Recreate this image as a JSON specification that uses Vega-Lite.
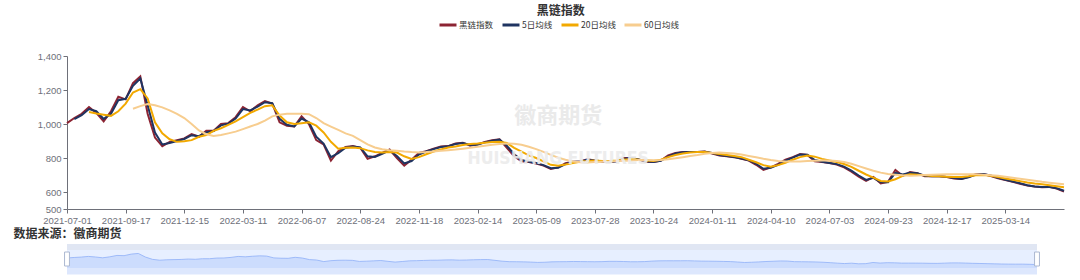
{
  "$schema": "https://vega.github.io/schema/vega-lite/v6.json",
  "padding": {"left": 13, "top": 5, "right": 5, "bottom": 5},
  "background": "white",
  "title": {"text": "黑链指数", "anchor": "middle", "frame": "bounds", "dx": 20, "font": "Noto Sans CJK SC", "fontSize": 12, "fontWeight": "bold", "color": "#333333", "offset": -3},
  "data": {"values": [
    {"d":"2021-07-01","黑链指数":1005,"5日均线":null,"20日均线":null,"60日均线":null},
    {"d":"2021-07-12","黑链指数":1035,"5日均线":1028,"20日均线":null,"60日均线":null},
    {"d":"2021-07-21","黑链指数":1060,"5日均线":1052,"20日均线":null,"60日均线":null},
    {"d":"2021-07-30","黑链指数":1100,"5日均线":1088,"20日均线":1070,"60日均线":null},
    {"d":"2021-08-10","黑链指数":1065,"5日均线":1075,"20日均线":1062,"60日均线":null},
    {"d":"2021-08-19","黑链指数":1015,"5日均线":1030,"20日均线":1055,"60日均线":null},
    {"d":"2021-08-30","黑链指数":1075,"5日均线":1060,"20日均线":1048,"60日均线":null},
    {"d":"2021-09-08","黑链指数":1160,"5日均线":1140,"20日均线":1075,"60日均线":null},
    {"d":"2021-09-17","黑链指数":1145,"5日均线":1148,"20日均线":1120,"60日均线":null},
    {"d":"2021-09-29","黑链指数":1240,"5日均线":1225,"20日均线":1185,"60日均线":1090},
    {"d":"2021-10-15","黑链指数":1280,"5日均线":1268,"20日均线":1205,"60日均线":1105},
    {"d":"2021-10-25","黑链指数":1060,"5日均线":1110,"20日均线":1150,"60日均线":1118},
    {"d":"2021-11-03","黑链指数":920,"5日均线":950,"20日均线":1010,"60日均线":1110},
    {"d":"2021-11-12","黑链指数":870,"5日均线":880,"20日均线":945,"60日均线":1098},
    {"d":"2021-11-23","黑链指数":895,"5日均线":888,"20日均线":910,"60日均线":1080},
    {"d":"2021-12-03","黑链指数":905,"5日均线":900,"20日均线":895,"60日均线":1060},
    {"d":"2021-12-15","黑链指数":915,"5日均线":912,"20日均线":898,"60日均线":1035},
    {"d":"2021-12-24","黑链指数":940,"5日均线":934,"20日均线":905,"60日均线":1000},
    {"d":"2022-01-05","黑链指数":925,"5日均线":928,"20日均线":925,"60日均线":962},
    {"d":"2022-01-14","黑链指数":960,"5日均线":952,"20日均线":935,"60日均线":940},
    {"d":"2022-01-25","黑链指数":960,"5日均线":958,"20日均线":960,"60日均线":930},
    {"d":"2022-02-10","黑链指数":1000,"5日均线":992,"20日均线":975,"60日均线":935},
    {"d":"2022-02-18","黑链指数":1005,"5日均线":1002,"20日均线":995,"60日均线":945},
    {"d":"2022-03-01","黑链指数":1040,"5日均线":1032,"20日均线":1015,"60日均线":955},
    {"d":"2022-03-11","黑链指数":1100,"5日均线":1088,"20日均线":1040,"60日均线":970},
    {"d":"2022-03-22","黑链指数":1075,"5日均线":1080,"20日均线":1065,"60日均线":985},
    {"d":"2022-03-31","黑链指数":1110,"5日均线":1102,"20日均线":1085,"60日均线":1000},
    {"d":"2022-04-13","黑链指数":1135,"5日均线":1128,"20日均线":1105,"60日均线":1020},
    {"d":"2022-04-22","黑链指数":1120,"5日均线":1122,"20日均线":1110,"60日均线":1045},
    {"d":"2022-05-06","黑链指数":1010,"5日均线":1030,"20日均线":1050,"60日均线":1055},
    {"d":"2022-05-16","黑链指数":990,"5日均线":995,"20日均线":1010,"60日均线":1060},
    {"d":"2022-05-25","黑链指数":985,"5日均线":986,"20日均线":1000,"60日均线":1060},
    {"d":"2022-06-07","黑链指数":1045,"5日均线":1032,"20日均线":1005,"60日均线":1060},
    {"d":"2022-06-16","黑链指数":1000,"5日均线":1010,"20日均线":1010,"60日均线":1058},
    {"d":"2022-06-27","黑链指数":905,"5日均线":925,"20日均线":990,"60日均线":1035},
    {"d":"2022-07-06","黑链指数":880,"5日均线":885,"20日均线":950,"60日均线":1005},
    {"d":"2022-07-15","黑链指数":785,"5日均线":805,"20日均线":895,"60日均线":985},
    {"d":"2022-07-26","黑链指数":840,"5日均线":828,"20日均线":855,"60日均线":965},
    {"d":"2022-08-04","黑链指数":865,"5日均线":860,"20日均线":860,"60日均线":945},
    {"d":"2022-08-15","黑链指数":870,"5日均线":868,"20日均线":862,"60日均线":930},
    {"d":"2022-08-24","黑链指数":860,"5日均线":862,"20日均线":858,"60日均线":905},
    {"d":"2022-09-02","黑链指数":795,"5日均线":810,"20日均线":845,"60日均线":880},
    {"d":"2022-09-14","黑链指数":810,"5日均线":806,"20日均线":835,"60日均线":862},
    {"d":"2022-09-23","黑链指数":830,"5日均线":825,"20日均线":832,"60日均线":852},
    {"d":"2022-10-11","黑链指数":850,"5日均线":845,"20日均线":835,"60日均线":845},
    {"d":"2022-10-20","黑链指数":800,"5日均线":812,"20日均线":832,"60日均线":842},
    {"d":"2022-10-31","黑链指数":755,"5日均线":768,"20日均线":810,"60日均线":838},
    {"d":"2022-11-09","黑链指数":790,"5日均线":782,"20日均线":795,"60日均线":835},
    {"d":"2022-11-18","黑链指数":830,"5日均线":820,"20日均线":805,"60日均线":833},
    {"d":"2022-11-29","黑链指数":840,"5日均线":838,"20日均线":822,"60日均线":835},
    {"d":"2022-12-08","黑链指数":855,"5日均线":852,"20日均线":838,"60日均线":838},
    {"d":"2022-12-19","黑链指数":868,"5日均线":865,"20日均线":850,"60日均线":842},
    {"d":"2022-12-28","黑链指数":870,"5日均线":869,"20日均线":862,"60日均线":846},
    {"d":"2023-01-09","黑链指数":885,"5日均线":882,"20日均线":868,"60日均线":850},
    {"d":"2023-01-18","黑链指数":890,"5日均线":888,"20日均线":876,"60日均线":855},
    {"d":"2023-02-03","黑链指数":872,"5日均线":876,"20日均线":882,"60日均线":860},
    {"d":"2023-02-14","黑链指数":880,"5日均线":878,"20日均线":885,"60日均线":866},
    {"d":"2023-02-23","黑链指数":895,"5日均线":892,"20日均线":890,"60日均线":872},
    {"d":"2023-03-06","黑链指数":905,"5日均线":902,"20日均线":894,"60日均线":878},
    {"d":"2023-03-15","黑链指数":910,"5日均线":908,"20日均线":896,"60日均线":882},
    {"d":"2023-03-24","黑链指数":860,"5日均线":872,"20日均线":888,"60日均线":885},
    {"d":"2023-04-04","黑链指数":810,"5日均线":822,"20日均线":860,"60日均线":884},
    {"d":"2023-04-14","黑链指数":780,"5日均线":788,"20日均线":838,"60日均线":878},
    {"d":"2023-04-25","黑链指数":776,"5日均线":778,"20日均线":815,"60日均线":866},
    {"d":"2023-05-09","黑链指数":768,"5日均线":770,"20日均线":800,"60日均线":852},
    {"d":"2023-05-18","黑链指数":755,"5日均线":758,"20日均线":780,"60日均线":836},
    {"d":"2023-05-29","黑链指数":735,"5日均线":740,"20日均线":760,"60日均线":818},
    {"d":"2023-06-07","黑链指数":745,"5日均线":742,"20日均线":755,"60日均线":802},
    {"d":"2023-06-16","黑链指数":770,"5日均线":764,"20日均线":762,"60日均线":790},
    {"d":"2023-06-28","黑链指数":778,"5日均线":776,"20日均线":770,"60日均线":780},
    {"d":"2023-07-07","黑链指数":780,"5日均线":779,"20日均线":778,"60日均线":775},
    {"d":"2023-07-18","黑链指数":792,"5日均线":789,"20日均线":782,"60日均线":774},
    {"d":"2023-07-28","黑链指数":785,"5日均线":786,"20日均线":785,"60日均线":776},
    {"d":"2023-08-08","黑链指数":780,"5日均线":781,"20日均线":783,"60日均线":778},
    {"d":"2023-08-17","黑链指数":776,"5日均线":777,"20日均线":782,"60日均线":780},
    {"d":"2023-08-28","黑链指数":782,"5日均线":781,"20日均线":785,"60日均线":782},
    {"d":"2023-09-06","黑链指数":800,"5日均线":796,"20日均线":790,"60日均线":784},
    {"d":"2023-09-15","黑链指数":800,"5日均线":800,"20日均线":795,"60日均线":786},
    {"d":"2023-09-26","黑链指数":790,"5日均线":792,"20日均线":790,"60日均线":788},
    {"d":"2023-10-13","黑链指数":776,"5日均线":779,"20日均线":785,"60日均线":788},
    {"d":"2023-10-24","黑链指数":776,"5日均线":776,"20日均线":783,"60日均线":787},
    {"d":"2023-11-02","黑链指数":785,"5日均线":783,"20日均线":790,"60日均线":788},
    {"d":"2023-11-13","黑链指数":815,"5日均线":808,"20日均线":805,"60日均线":792},
    {"d":"2023-11-22","黑链指数":830,"5日均线":826,"20日均线":818,"60日均线":798},
    {"d":"2023-12-01","黑链指数":835,"5日均线":834,"20日均线":826,"60日均线":805},
    {"d":"2023-12-12","黑链指数":835,"5日均线":835,"20日均线":832,"60日均线":812},
    {"d":"2023-12-21","黑链指数":835,"5日均线":835,"20日均线":835,"60日均线":818},
    {"d":"2024-01-02","黑链指数":838,"5日均线":837,"20日均线":836,"60日均线":825},
    {"d":"2024-01-11","黑链指数":826,"5日均线":829,"20日均线":830,"60日均线":830},
    {"d":"2024-01-22","黑链指数":815,"5日均线":818,"20日均线":824,"60日均线":832},
    {"d":"2024-01-31","黑链指数":810,"5日均线":811,"20日均线":818,"60日均线":830},
    {"d":"2024-02-08","黑链指数":805,"5日均线":806,"20日均线":812,"60日均线":826},
    {"d":"2024-02-27","黑链指数":795,"5日均线":797,"20日均线":805,"60日均线":820},
    {"d":"2024-03-07","黑链指数":785,"5日均线":787,"20日均线":790,"60日均线":812},
    {"d":"2024-03-18","黑链指数":760,"5日均线":766,"20日均线":775,"60日均线":804},
    {"d":"2024-03-27","黑链指数":730,"5日均线":737,"20日均线":758,"60日均线":795},
    {"d":"2024-04-10","黑链指数":745,"5日均线":742,"20日均线":748,"60日均线":788},
    {"d":"2024-04-19","黑链指数":765,"5日均线":760,"20日均线":758,"60日均线":782},
    {"d":"2024-04-30","黑链指数":790,"5日均线":784,"20日均线":772,"60日均线":780},
    {"d":"2024-05-13","黑链指数":805,"5日均线":802,"20日均线":790,"60日均线":780},
    {"d":"2024-05-22","黑链指数":824,"5日均线":820,"20日均线":805,"60日均线":780},
    {"d":"2024-05-31","黑链指数":818,"5日均线":819,"20日均线":815,"60日均线":782},
    {"d":"2024-06-12","黑链指数":780,"5日均线":788,"20日均线":808,"60日均线":784},
    {"d":"2024-06-21","黑链指数":776,"5日均线":778,"20日均线":795,"60日均线":785},
    {"d":"2024-07-03","黑链指数":770,"5日均线":771,"20日均线":785,"60日均线":785},
    {"d":"2024-07-12","黑链指数":762,"5日均线":764,"20日均线":776,"60日均线":782},
    {"d":"2024-07-23","黑链指数":745,"5日均线":749,"20日均线":765,"60日均线":776},
    {"d":"2024-08-01","黑链指数":720,"5日均线":726,"20日均线":748,"60日均线":766},
    {"d":"2024-08-12","黑链指数":690,"5日均线":697,"20日均线":725,"60日均线":752},
    {"d":"2024-08-21","黑链指数":665,"5日均线":671,"20日均线":703,"60日均线":738},
    {"d":"2024-08-30","黑链指数":688,"5日均线":683,"20日均线":685,"60日均线":725},
    {"d":"2024-09-10","黑链指数":650,"5日均线":658,"20日均线":665,"60日均线":714},
    {"d":"2024-09-23","黑链指数":660,"5日均线":658,"20日均线":662,"60日均线":706},
    {"d":"2024-10-09","黑链指数":730,"5日均线":712,"20日均线":675,"60日均线":702},
    {"d":"2024-10-18","黑链指数":695,"5日均线":703,"20日均线":695,"60日均线":698},
    {"d":"2024-10-29","黑链指数":718,"5日均线":713,"20日均线":705,"60日均线":696},
    {"d":"2024-11-07","黑链指数":710,"5日均线":711,"20日均线":702,"60日均线":697},
    {"d":"2024-11-18","黑链指数":692,"5日均线":696,"20日均线":698,"60日均线":700},
    {"d":"2024-11-27","黑链指数":693,"5日均线":693,"20日均线":694,"60日均线":702},
    {"d":"2024-12-06","黑链指数":692,"5日均线":692,"20日均线":692,"60日均线":703},
    {"d":"2024-12-17","黑链指数":688,"5日均线":689,"20日均线":690,"60日均线":704},
    {"d":"2024-12-26","黑链指数":680,"5日均线":682,"20日均线":688,"60日均线":705},
    {"d":"2025-01-07","黑链指数":676,"5日均线":677,"20日均线":688,"60日均线":705},
    {"d":"2025-01-16","黑链指数":690,"5日均线":687,"20日均线":692,"60日均线":705},
    {"d":"2025-01-27","黑链指数":706,"5日均线":702,"20日均线":698,"60日均线":704},
    {"d":"2025-02-12","黑链指数":706,"5日均线":706,"20日均线":700,"60日均线":702},
    {"d":"2025-02-21","黑链指数":694,"5日均线":697,"20日均线":695,"60日均线":699},
    {"d":"2025-03-04","黑链指数":680,"5日均线":684,"20日均线":688,"60日均线":695},
    {"d":"2025-03-14","黑链指数":670,"5日均线":672,"20日均线":680,"60日均线":690},
    {"d":"2025-03-25","黑链指数":660,"5日均线":662,"20日均线":672,"60日均线":684},
    {"d":"2025-04-03","黑链指数":648,"5日均线":651,"20日均线":664,"60日均线":678},
    {"d":"2025-04-15","黑链指数":638,"5日均线":640,"20日均线":656,"60日均线":672},
    {"d":"2025-04-24","黑链指数":632,"5日均线":633,"20日均线":650,"60日均线":666},
    {"d":"2025-05-09","黑链指数":628,"5日均线":629,"20日均线":646,"60日均线":660},
    {"d":"2025-05-20","黑链指数":630,"5日均线":630,"20日均线":640,"60日均线":655},
    {"d":"2025-05-29","黑链指数":620,"5日均线":622,"20日均线":634,"60日均线":650},
    {"d":"2025-06-09","黑链指数":603,"5日均线":607,"20日均线":628,"60日均线":645}
  ]},
  "spacing": 3,
  "resolve": {"scale": {"x": "independent", "y": "independent", "color": "independent"}},
  "vconcat": [
    {
      "width": 997,
      "height": 153,
      "encoding": {
        "x": {"field": "d", "type": "ordinal", "scale": {"type": "point", "padding": 0},
          "axis": {"title": null, "labelAngle": 0, "labelOverlap": false,
            "values": ["2021-07-01","2021-09-17","2021-12-15","2022-03-11","2022-06-07","2022-08-24","2022-11-18","2023-02-14","2023-05-09","2023-07-28","2023-10-24","2024-01-11","2024-04-10","2024-07-03","2024-09-23","2024-12-17","2025-03-14"],
            "tickSize": 4, "labelPadding": 2, "grid": false}}
      },
      "layer": [
        {
          "transform": [{"fold": ["黑链指数", "5日均线", "20日均线", "60日均线"], "as": ["series", "value"]}],
          "mark": {"type": "line"},
          "encoding": {
            "y": {"field": "value", "type": "quantitative", "scale": {"domain": [500, 1400], "zero": false, "nice": false},
              "axis": {"title": null, "values": [500, 600, 800, 1000, 1200, 1400], "tickCount": 12, "format": ",.0f", "labelOverlap": false, "tickSize": 4, "labelPadding": 2, "grid": false}},
            "color": {"field": "series", "type": "nominal",
              "scale": {"domain": ["黑链指数", "5日均线", "20日均线", "60日均线"], "range": ["#8c2433", "#1f3461", "#f2a900", "#f7cd8f"]},
              "legend": {"title": null, "orient": "none", "direction": "horizontal", "legendX": 371, "legendY": -41,
                "symbolType": "stroke", "symbolStrokeWidth": 3, "symbolSize": 289, "labelFont": "Noto Sans CJK SC", "labelFontSize": 8.5,
                "labelColor": "#333333", "columnPadding": 2, "labelOffset": 1}},
            "strokeWidth": {"field": "series", "type": "ordinal", "scale": {"domain": ["黑链指数", "5日均线", "20日均线", "60日均线"], "range": [2, 2, 2, 1.6]}, "legend": null}
          }
        },
        {
          "data": {"values": [{"t": "徽商期货", "v": 1047}]},
          "mark": {"type": "text", "font": "Noto Sans CJK SC", "fontSize": 22, "fontWeight": "bold", "color": "#e8e8e8", "baseline": "middle", "align": "center", "opacity": 0.9},
          "encoding": {"x": {"datum": "2023-06-07", "type": "ordinal"}, "y": {"field": "v", "type": "quantitative"}, "text": {"field": "t"}}
        },
        {
          "data": {"values": [{"t": "HUISHANG FUTURES", "v": 794}]},
          "mark": {"type": "text", "font": "DejaVu Sans Condensed, DejaVu Sans, Liberation Sans", "fontSize": 17.5, "fontWeight": "bold", "color": "#ececec", "baseline": "middle", "align": "center", "opacity": 0.9},
          "encoding": {"x": {"datum": "2023-06-07", "type": "ordinal"}, "y": {"field": "v", "type": "quantitative"}, "text": {"field": "t"}}
        }
      ]
    },
    {
      "width": 970,
      "height": 24,
      "title": {"text": "数据来源：徽商期货", "anchor": "start", "dx": -49, "font": "Noto Sans CJK SC", "fontSize": 12, "fontWeight": "bold", "color": "#333333", "offset": 3},
      "encoding": {
        "x": {"field": "d", "type": "ordinal", "scale": {"type": "point", "padding": 0}, "axis": null}
      },
      "layer": [
        {
          "data": {"values": [{}]},
          "mark": {"type": "rect", "color": "#e7efff"},
          "encoding": {"x": {"datum": "2021-07-01", "type": "ordinal"}, "x2": {"datum": "2025-06-09"},
            "y": {"datum": 395, "type": "quantitative", "scale": {"domain": [395, 1855], "zero": false, "nice": false}, "axis": null}, "y2": {"datum": 1490}}
        },
        {
          "data": {"values": [{}]},
          "mark": {"type": "rect", "color": "#e0e6f3"},
          "encoding": {"x": {"datum": "2021-07-01", "type": "ordinal"}, "x2": {"datum": "2025-06-09"},
            "y": {"datum": 1490, "type": "quantitative"}, "y2": {"datum": 1855}}
        },
        {
          "mark": {"type": "area", "color": "#8fb0f7", "opacity": 0.3, "line": {"color": "#8fb0f7", "strokeWidth": 0.8, "opacity": 1}},
          "encoding": {"y": {"field": "黑链指数", "type": "quantitative"}}
        },
        {
          "data": {"values": [{"d": "2021-07-01"}, {"d": "2025-06-09"}]},
          "mark": {"type": "point", "shape": "M-0.35,-1L0.35,-1L0.35,1L-0.35,1Z", "size": 196, "filled": true, "fill": "#ffffff", "stroke": "#acb8d1", "strokeWidth": 1, "opacity": 1},
          "encoding": {"y": {"datum": 942, "type": "quantitative"}}
        }
      ]
    }
  ],
  "config": {
    "view": {"stroke": null},
    "axis": {"labelFont": "Liberation Sans", "labelFontSize": 9.5, "labelColor": "#6e7079", "domainColor": "#6e7079", "tickColor": "#6e7079"},
    "axisY": {"labelOverlap": false}
  }
}
